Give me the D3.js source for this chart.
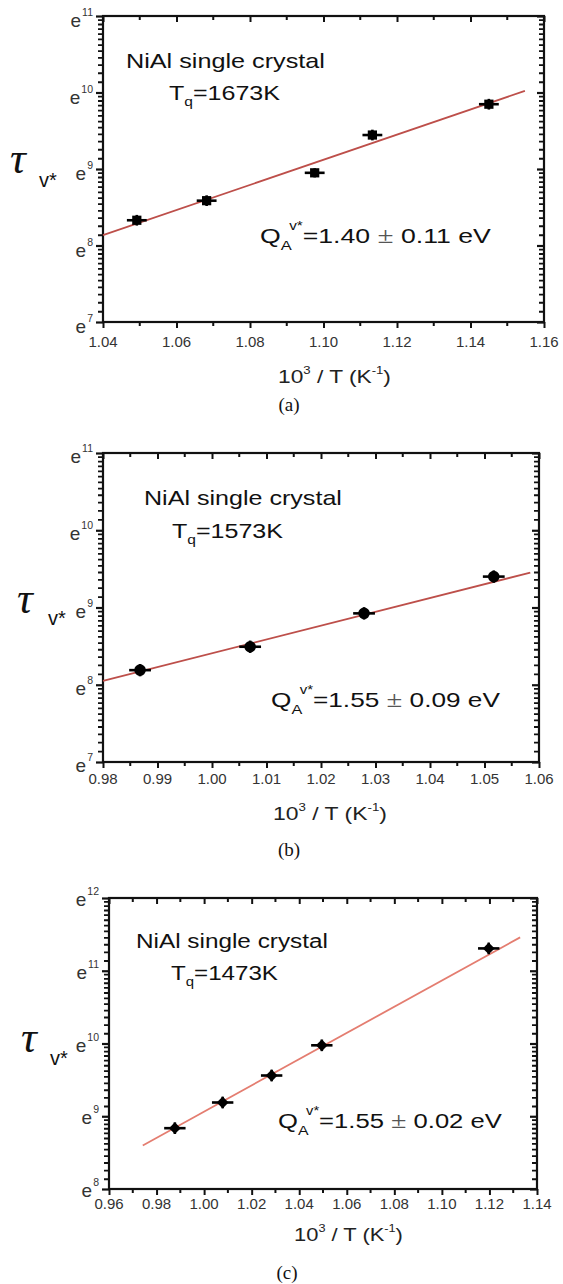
<!DOCTYPE html>
<html>
<head>
<meta charset="utf-8">
<script src="https://cdn.jsdelivr.net/npm/d3@7"></script>
<style>
  body { margin: 0; background: #fff; }
  svg { display: block; }
</style>
</head>
<body>
<svg id="fig" width="563" height="1284"></svg>
<script>
// ---- data: ln(tau_v*) versus 1000/T for three quench temperatures ----
// Panel (a): Tq = 1673 K
const xA = [1.0492, 1.0682, 1.0976, 1.1133, 1.1450];
const lnTauA = [8.33, 8.586, 8.95, 9.444, 9.847];
const xErrA = [0.0027, 0.0027, 0.0027, 0.0027, 0.0027];
const yErrA = [0.07, 0.07, 0.06, 0.07, 0.07];
const fitXA = [1.04, 1.1548];
const fitYA = [8.135, 10.021];

// Panel (b): Tq = 1573 K
const xB = [0.9868, 1.0070, 1.0279, 1.0517];
const lnTauB = [8.189, 8.492, 8.924, 9.40];
const xErrB = [0.0020, 0.0020, 0.0020, 0.0020];
const yErrB = [0.08, 0.08, 0.08, 0.08];
const fitXB = [0.98, 1.0584];
const fitYB = [8.051, 9.452];

// Panel (c): Tq = 1473 K
const xC = [0.9877, 1.0078, 1.0284, 1.0495, 1.1197];
const lnTauC = [8.836, 9.189, 9.56, 9.975, 11.307];
const xErrC = [0.0045, 0.0045, 0.0045, 0.0045, 0.0045];
const yErrC = [0.08, 0.08, 0.08, 0.08, 0.08];
const fitXC = [0.9742, 1.1329];
const fitYC = [8.599, 11.459];

// tick values
const xTicksA = [1.04, 1.06, 1.08, 1.10, 1.12, 1.14, 1.16];
const xTicksB = [0.98, 0.99, 1.00, 1.01, 1.02, 1.03, 1.04, 1.05, 1.06];
const xTicksC = [0.96, 0.98, 1.00, 1.02, 1.04, 1.06, 1.08, 1.10, 1.12, 1.14];
const yExpA = [7, 8, 9, 10, 11];
const yExpB = [7, 8, 9, 10, 11];
const yExpC = [8, 9, 10, 11, 12];

const tqLabels = ["1673K", "1573K", "1473K"];
const qLabels = ["=1.40 ", "=1.55 ", "=1.55 "];
const errLabels = [" 0.11 eV", " 0.09 eV", " 0.02 eV"];
const captions = ["(a)", "(b)", "(c)"];

const SANS = "'Liberation Sans', Arial, Helvetica, sans-serif";
const SERIF = "'Liberation Serif', 'Times New Roman', serif";

const svg = d3.select("#fig");

// place a text at (x0, baseline) and stretch it horizontally so it ends at x1
function fitText(sel, x0, x1, base) {
  sel.attr("transform", `translate(${x0},${base})`);
  const box = sel.node().getBBox();
  const s = (x1 - x0) / box.width;
  sel.attr("transform", `translate(${x0 - box.x * s},${base}) scale(${s},1)`);
}

// short tick marks drawn as a path: one segment per value, from the axis line by length len
function tickComb(g, values, pos, len, horizontal, width) {
  const d = values.map(v => {
    const c = pos(v);
    return horizontal ? `M${c},${len.at}V${len.at + len.d}` : `M${len.at},${c}H${len.at + len.d}`;
  }).join("");
  g.append("path").attr("d", d).attr("stroke", "#111").attr("stroke-width", width).attr("fill", "none");
}

function drawPanel(p) {
  const g = svg.append("g").style("font-family", SANS);
  const x = d3.scaleLinear().domain([p.xTicks[0], p.xTicks[p.xTicks.length - 1]]).range([p.left, p.right]);
  const y = d3.scaleLinear().domain([p.yExp[0], p.yExp[p.yExp.length - 1]]).range([p.bottom, p.top]);

  // minor tick positions: halfway between x majors; linear-in-value steps on the ln axis
  const xStep = p.xTicks[1] - p.xTicks[0];
  const xMinor = p.xTicks.slice(0, -1).map(v => v + xStep / 2);
  const yMinor = [];
  for (let k = 0; k < p.yExp.length - 1; k++) {
    const lo = Math.exp(p.yExp[k]), hi = Math.exp(p.yExp[k + 1]);
    for (let j = 1; j < p.nMinor; j++) yMinor.push(Math.log(lo + (hi - lo) * j / p.nMinor));
  }

  const styleAxis = w => sel => {
    sel.select(".domain").remove();
    sel.selectAll(".tick line").attr("stroke", "#111").attr("stroke-width", w);
  };

  // major ticks through d3 axes: bottom/left outward, top/right inward
  g.append("g").attr("transform", `translate(0,${p.bottom})`)
    .call(d3.axisBottom(x).tickValues(p.xTicks).tickSize(6).tickFormat(""))
    .call(styleAxis(2));
  g.append("g").attr("transform", `translate(0,${p.top})`)
    .call(d3.axisTop(x).tickValues(p.xTicks).tickSize(-6).tickFormat(""))
    .call(styleAxis(2));
  g.append("g").attr("transform", `translate(${p.left},0)`)
    .call(d3.axisLeft(y).tickValues(p.yExp).tickSize(7).tickFormat(""))
    .call(styleAxis(2.2));
  g.append("g").attr("transform", `translate(${p.right},0)`)
    .call(d3.axisRight(y).tickValues(p.yExp).tickSize(-7).tickFormat(""))
    .call(styleAxis(2.2));

  // minor ticks
  tickComb(g, xMinor, x, { at: p.bottom, d: 4 }, true, 2);
  tickComb(g, xMinor, x, { at: p.top, d: 4 }, true, 2);
  tickComb(g, yMinor, y, { at: p.left, d: -5 }, false, 1.8);
  tickComb(g, yMinor, y, { at: p.right, d: -5 }, false, 1.8);

  // frame
  g.append("rect")
    .attr("x", p.left).attr("y", p.top)
    .attr("width", p.right - p.left).attr("height", p.bottom - p.top)
    .attr("fill", "none").attr("stroke", "#111").attr("stroke-width", 2.2);

  // x tick labels
  g.append("g").selectAll("text").data(p.xTicks).join("text")
    .attr("x", d => x(d)).attr("y", p.bottom + p.xLabelDy)
    .attr("text-anchor", "middle").attr("font-size", 15).attr("fill", "#333")
    .text(d => d3.format(".2f")(d));

  // y tick labels: e^n
  const yl = g.append("g").selectAll("text").data(p.yExp).join("text")
    .attr("x", p.left - 10).attr("y", d => y(d) + p.eDy)
    .attr("text-anchor", "end").attr("fill", "#333");
  yl.append("tspan").attr("font-size", 19).text("e");
  yl.append("tspan").attr("font-size", 10.5).attr("dy", -11).attr("dx", 1).text(d => d);

  // x axis title
  const xt = g.append("text").attr("font-size", 19).attr("fill", "#222");
  xt.append("tspan").text("10");
  xt.append("tspan").attr("font-size", 11).attr("dy", -9).text("3");
  xt.append("tspan").attr("dy", 9).text(" / T (K");
  xt.append("tspan").attr("font-size", 11).attr("dy", -9).text("-1");
  xt.append("tspan").attr("dy", 9).text(")");
  fitText(xt, p.xTitle[0], p.xTitle[1], p.xTitle[2]);

  // y axis title: tau with subscript v*
  g.append("text")
    .attr("x", p.tau[0]).attr("y", p.tau[1])
    .style("font-family", SERIF)
    .attr("font-style", "italic").attr("font-size", 44).attr("fill", "#111")
    .text("\u03C4");
  g.append("text")
    .attr("x", p.tau[2]).attr("y", p.tau[3])
    .attr("font-size", 20).attr("fill", "#111").text("v*");

  // fit line
  const fitPts = p.fitX.map((v, i) => [v, p.fitY[i]]);
  g.append("path")
    .attr("d", d3.line().x(d => x(d[0])).y(d => y(d[1]))(fitPts))
    .attr("fill", "none").attr("stroke", p.lineColor).attr("stroke-width", 1.8);

  // data points with error bars
  const pts = p.xs.map((v, i) => ({ x: v, y: p.ys[i], ex: p.xErr[i], ey: p.yErr[i] }));
  const pg = g.append("g").selectAll("g").data(pts).join("g");
  pg.append("line")
    .attr("x1", d => x(d.x - d.ex)).attr("x2", d => x(d.x + d.ex))
    .attr("y1", d => y(d.y)).attr("y2", d => y(d.y))
    .attr("stroke", "#000").attr("stroke-width", 2.6);
  pg.append("line")
    .attr("x1", d => x(d.x)).attr("x2", d => x(d.x))
    .attr("y1", d => y(d.y - d.ey)).attr("y2", d => y(d.y + d.ey))
    .attr("stroke", "#000").attr("stroke-width", 2.6);
  pg.append("path")
    .attr("transform", d => `translate(${x(d.x)},${y(d.y)}) rotate(${p.symbolRotate})`)
    .attr("d", d3.symbol().type(p.symbol).size(p.symbolSize)())
    .attr("fill", "#000");

  // annotations
  const t1 = g.append("text").attr("font-size", 21).attr("fill", "#111").text("NiAl single crystal");
  fitText(t1, p.note[0], p.note[1], p.note[2]);

  const t2 = g.append("text").attr("font-size", 21).attr("fill", "#111");
  t2.append("tspan").text("T");
  t2.append("tspan").attr("font-size", 13).attr("dy", 6).text("q");
  t2.append("tspan").attr("dy", -6).text("=" + p.tq);
  fitText(t2, p.tqPos[0], p.tqPos[1], p.tqPos[2]);

  const t3 = g.append("text").attr("font-size", 21).attr("fill", "#111");
  t3.append("tspan").text("Q");
  t3.append("tspan").attr("font-size", 13).attr("dy", 7).text("A");
  t3.append("tspan").attr("font-size", 12).attr("dy", -20).attr("dx", -2).text("v*");
  t3.append("tspan").attr("dy", 13).text(p.q);
  t3.append("tspan").style("font-family", SERIF).attr("font-size", 23).attr("fill", "#555").text("\u00B1");
  t3.append("tspan").text(p.err);
  fitText(t3, p.qPos[0], p.qPos[1], p.qPos[2]);

  // caption
  svg.append("text")
    .attr("x", p.cap[0]).attr("y", p.cap[1])
    .attr("text-anchor", "middle")
    .style("font-family", SERIF)
    .attr("font-size", 19).attr("fill", "#111").text(p.caption);
}

drawPanel({
  left: 103, right: 544, top: 16, bottom: 322,
  xTicks: xTicksA, yExp: yExpA, nMinor: 12,
  xs: xA, ys: lnTauA, xErr: xErrA, yErr: yErrA, fitX: fitXA, fitY: fitYA,
  symbol: d3.symbolSquare, symbolSize: 85, symbolRotate: 0, lineColor: "#bd4f4a",
  xLabelDy: 25, eDy: 11, xTitle: [278, 391, 383],
  tau: [10, 173, 39, 187],
  note: [126, 325, 68], tqPos: [169, 280, 100], tq: tqLabels[0],
  qPos: [260, 491, 243], q: qLabels[0], err: errLabels[0],
  cap: [289, 411], caption: captions[0]
});

drawPanel({
  left: 103, right: 539, top: 453, bottom: 762,
  xTicks: xTicksB, yExp: yExpB, nMinor: 12,
  xs: xB, ys: lnTauB, xErr: xErrB, yErr: yErrB, fitX: fitXB, fitY: fitYB,
  symbol: d3.symbolCircle, symbolSize: 105, symbolRotate: 0, lineColor: "#bd4f4a",
  xLabelDy: 22, eDy: 10, xTitle: [273, 387, 820],
  tau: [17, 613, 48, 625],
  note: [144, 342, 505], tqPos: [172, 283, 538], tq: tqLabels[1],
  qPos: [271, 500, 707], q: qLabels[1], err: errLabels[1],
  cap: [289, 856], caption: captions[1]
});

drawPanel({
  left: 109, right: 537, top: 898, bottom: 1189,
  xTicks: xTicksC, yExp: yExpC, nMinor: 12,
  xs: xC, ys: lnTauC, xErr: xErrC, yErr: yErrC, fitX: fitXC, fitY: fitYC,
  symbol: d3.symbolSquare, symbolSize: 70, symbolRotate: 45, lineColor: "#e47d70",
  xLabelDy: 20, eDy: 8, xTitle: [294, 403, 1241],
  tau: [21, 1052, 50, 1065],
  note: [136, 328, 948], tqPos: [171, 278, 980], tq: tqLabels[2],
  qPos: [278, 502, 1128], q: qLabels[2], err: errLabels[2],
  cap: [287, 1279], caption: captions[2]
});
</script>
</body>
</html>
